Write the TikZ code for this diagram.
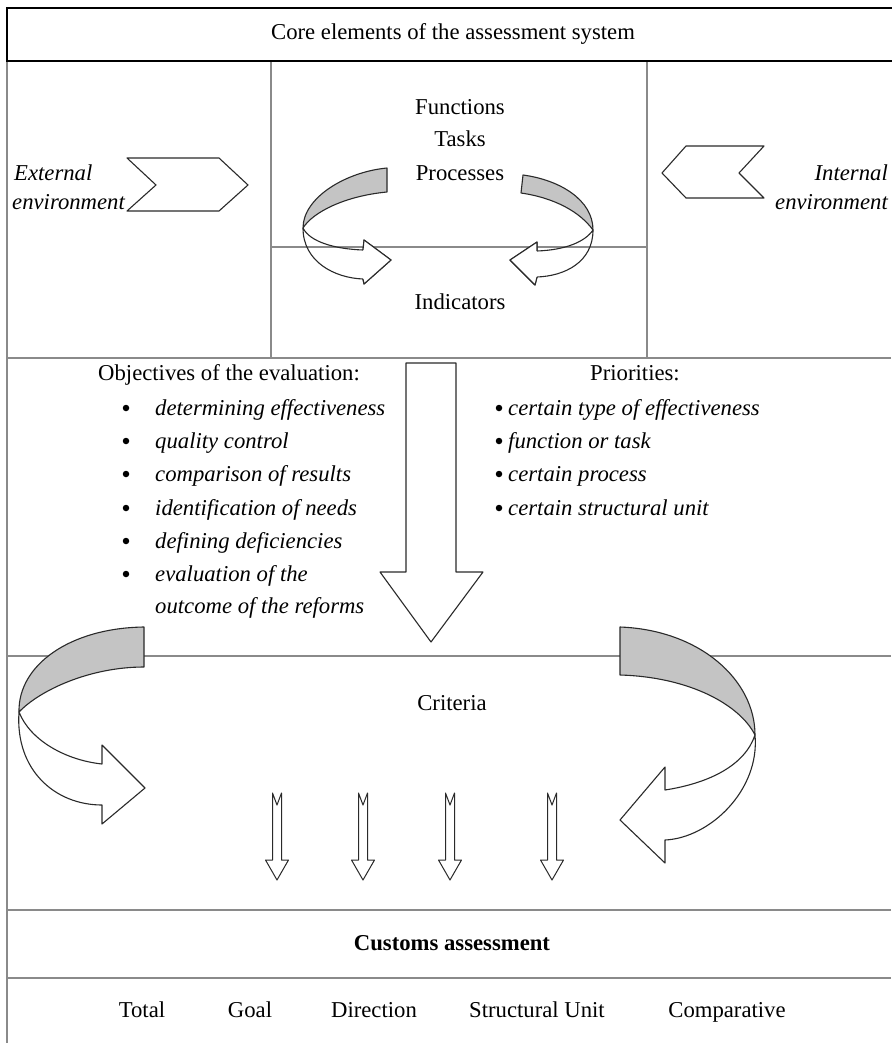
\documentclass[tikz,border=0pt]{standalone}
\usepackage{fontspec}
\setmainfont{Liberation Serif}
\definecolor{bandgray}{HTML}{C4C4C4}
\definecolor{linegray}{HTML}{8A8A8A}
\definecolor{ink}{HTML}{2A2A2A}
\begin{document}
\begin{tikzpicture}[x=1pt,y=-1pt,
  txt/.style={inner sep=0pt,text height=14pt,text depth=0pt,font=\fontsize{22.7}{27}\selectfont},
  itxt/.style={txt,font=\fontsize{22.7}{27}\selectfont\itshape},
  dot/.style={circle,fill=black,inner sep=0pt,minimum size=6.5pt},
  frame/.style={draw=black,line width=1.8pt},
  sepline/.style={draw=linegray,line width=1.4pt},
  shapeline/.style={draw=ink,line width=1.1pt,line join=round},
  band/.style={shapeline,fill=bandgray},
  ribbon/.style={shapeline,fill=white}]
\useasboundingbox (0,0) rectangle (891,1043);
\fill[white] (0,0) rectangle (891,1043);

% separators
\draw[sepline] (7,61) -- (7,1043);
\draw[sepline] (271,61) -- (271,358);
\draw[sepline] (647,61) -- (647,358);
\draw[sepline] (271,247) -- (647,247);
\draw[sepline] (7,358) -- (891,358);
\draw[sepline] (7,656) -- (891,656);
\draw[sepline] (7,910) -- (891,910);
\draw[sepline] (7,978) -- (891,978);
\draw[frame] (895,8) -- (7,8) -- (7,61) -- (895,61);

% title
\node[txt] (title) at (453,33) {Core elements of the assessment system};

% top centre
\node[txt] (fun) at (460,108) {Functions};
\node[txt] (tas) at (460,140) {Tasks};
\node[txt] (pro) at (460,173) {Processes};
\node[txt] (ind) at (460,302) {Indicators};

% chevrons
\draw[shapeline,fill=white] (127,158) -- (219,158) -- (248,185) -- (219,211) -- (127,211) -- (156,185) -- cycle;
\draw[shapeline,fill=white] (686,146) -- (764,146) -- (739,173) -- (764,198) -- (686,198) -- (662,173) -- cycle;
\node[itxt,anchor=west] (ext1) at (14,173) {External};
\node[itxt,anchor=west] (ext2) at (12,202) {environment};
\node[itxt,anchor=east] (int1) at (888,173) {Internal};
\node[itxt,anchor=east] (int2) at (888,202) {environment};

% centre curved arrows (left)
\draw[band] (387,168) .. controls (345,172) and (303,198) .. (303,228)
  .. controls (313,212) and (345,196) .. (387,192) -- cycle;
\draw[shapeline] (303,228) .. controls (303,262) and (335,278) .. (363,279)
  -- (364,284) -- (391,260) -- (364,240) -- (363,250)
  .. controls (335,249) and (310,242) .. (303,228);
\fill[white] (363,279) -- (364,284) -- (391,260) -- (364,240) -- (363,250) -- cycle;
\draw[shapeline] (363,279) -- (364,284) -- (391,260) -- (364,240) -- (363,250);
% centre curved arrows (right)
\draw[band] (523,175) .. controls (560,180) and (593,200) .. (593,230)
  .. controls (580,212) and (555,198) .. (521,193) -- cycle;
\draw[shapeline] (593,230) .. controls (593,262) and (565,276) .. (537,277)
  -- (535,285) -- (510,260) -- (537,242) -- (537,251)
  .. controls (565,250) and (585,242) .. (593,230);
\fill[white] (537,277) -- (535,285) -- (510,260) -- (537,242) -- (537,251) -- cycle;
\draw[shapeline] (537,277) -- (535,285) -- (510,260) -- (537,242) -- (537,251);

% middle section
\draw[ribbon] (406,363) -- (456,363) -- (456,572) -- (483,572) -- (431,642) -- (380,572) -- (406,572) -- cycle;
\node[txt] (obj) at (229,373) {Objectives of the evaluation:};
\foreach \y/\t [count=\i] in {408/determining effectiveness,441/quality control,474/comparison of results,508/identification of needs,541/defining deficiencies,574/evaluation of the}{
  \node[dot] (ob\i) at (126,\y) {};
  \node[itxt,anchor=west] (ot\i) at (155,\y) {\t};
}
\node[itxt,anchor=west] (ot7) at (155,606) {outcome of the reforms};
\node[txt] (pri) at (635,373) {Priorities:};
\foreach \y/\t [count=\i] in {408/certain type of effectiveness,441/function or task,474/certain process,508/certain structural unit}{
  \node[dot] (pb\i) at (499,\y) {};
  \node[itxt,anchor=west] (pt\i) at (508,\y) {\t};
}

% big curved arrows
\draw[band] (144,627) .. controls (70,628) and (18,665) .. (19,712)
  .. controls (40,690) and (90,667) .. (144,667) -- cycle;
\draw[ribbon] (19,712) .. controls (15,770) and (55,805) .. (102,805)
  -- (102,824) -- (145,788) -- (102,745) -- (102,764)
  .. controls (65,760) and (30,740) .. (19,712) -- cycle;
\draw[band] (620,627) .. controls (700,630) and (755,680) .. (755,735)
  .. controls (740,705) and (690,677) .. (620,675) -- cycle;
\draw[ribbon] (755,735) .. controls (760,790) and (710,838) .. (665,840)
  -- (665,863) -- (620,820) -- (665,767) -- (665,790)
  .. controls (710,783) and (745,765) .. (755,735) -- cycle;

\node[txt] (crit) at (452,703) {Criteria};

% small arrows
\foreach \cx in {277,363,450,552}{
  \draw[ribbon,line width=1pt] (\cx-4.5,793) -- (\cx,805) -- (\cx+4.5,793) -- (\cx+4.5,860)
    -- (\cx+11.5,860) -- (\cx,880) -- (\cx-11.5,860) -- (\cx-4.5,860) -- cycle;
}

% bottom
\node[txt,font=\fontsize{22.7}{27}\selectfont\bfseries] (cust) at (452,943) {Customs assessment};
\node[txt] (b1) at (142,1010) {Total};
\node[txt] (b2) at (250,1010) {Goal};
\node[txt] (b3) at (374,1010) {Direction};
\node[txt] (b4) at (537,1010) {Structural Unit};
\node[txt] (b5) at (727,1010) {Comparative};
\end{tikzpicture}
\end{document}
